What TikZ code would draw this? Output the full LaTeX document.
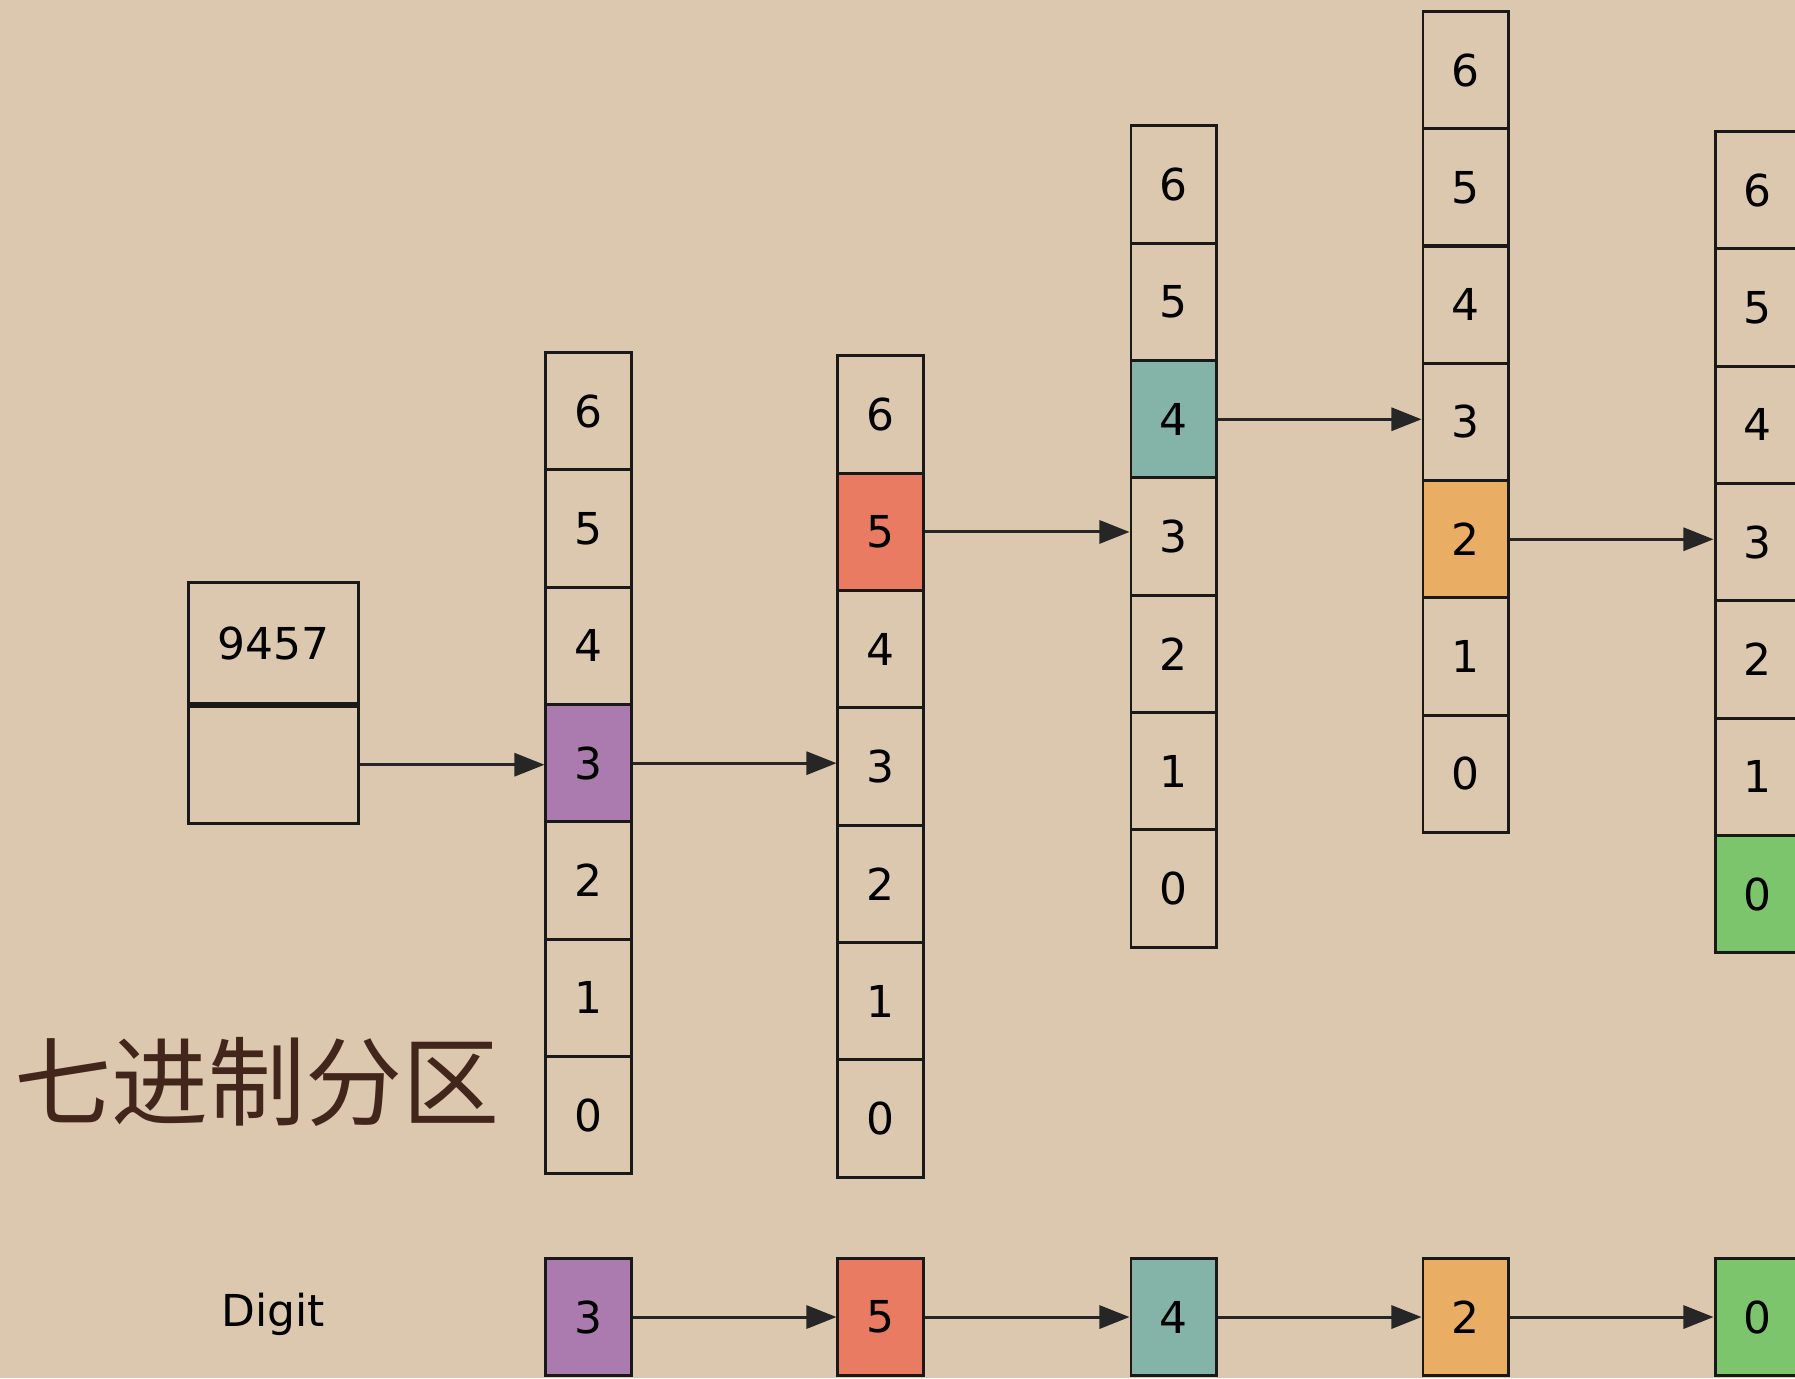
\documentclass[tikz,border=0pt]{standalone}
\usepackage{fontspec}
\setmainfont{DejaVu Sans}
\newfontfamily\cjk{Noto Sans CJK SC}
\usetikzlibrary{arrows.meta}

\definecolor{paper}{HTML}{DCC8AE}
\definecolor{ink}{HTML}{42261C}
\definecolor{dpurple}{HTML}{AB7AAE}
\definecolor{dred}{HTML}{E97B63}
\definecolor{dteal}{HTML}{84B4A8}
\definecolor{dorange}{HTML}{E9AD63}
\definecolor{dgreen}{HTML}{7CC56C}

\tikzset{
  cell/.style={draw=black!90, line width=0.85pt, minimum width=0.85cm,
    minimum height=1.173cm, inner sep=0pt, font=\fontsize{12.5}{14}\selectfont},
  link/.style={draw=black!85, line width=0.85pt, -{Triangle[length=0.3cm,width=0.23cm]}},
}

\begin{document}
\begin{tikzpicture}[x=0.01cm, y=-0.01cm]
    \useasboundingbox[fill=paper] (0, 0) rectangle (1795, 1378);
    % the number to split
    \node[cell, minimum width=1.69cm, minimum height=1.2cm] (numtop) at (273.5, 643) {9457};
    \node[cell, minimum width=1.69cm, anchor=north] (numbot) at (numtop.south) {};
    % one column per digit
    \foreach \k/\f in {6/none,5/none,4/none,3/dpurple,2/none,1/none,0/none}
      \node[cell, fill=\f] (a\k) at (588.5, {352.6+(6.5-\k)*117.3}) {\k};
    \foreach \k/\f in {6/none,5/dred,4/none,3/none,2/none,1/none,0/none}
      \node[cell, fill=\f] (b\k) at (880.5, {356+(6.5-\k)*117.3}) {\k};
    \foreach \k/\f in {6/none,5/none,4/dteal,3/none,2/none,1/none,0/none}
      \node[cell, fill=\f] (c\k) at (1173.5, {126+(6.5-\k)*117.3}) {\k};
    \foreach \k/\f in {6/none,5/none,4/none,3/none,2/dorange,1/none,0/none}
      \node[cell, fill=\f] (d\k) at (1465.5, {11.4+(6.5-\k)*117.3}) {\k};
    \foreach \k/\f in {6/none,5/none,4/none,3/none,2/none,1/none,0/dgreen}
      \node[cell, fill=\f] (e\k) at (1757.5, {131.6+(6.5-\k)*117.3}) {\k};
    \draw[link] (numbot.east) -- (numbot.east -| a3.west);
    \draw[link] (a3.east) -- (a3.east -| b3.west);
    \draw[link] (b5.east) -- (b5.east -| c3.west);
    \draw[link] (c4.east) -- (c4.east -| d3.west);
    \draw[link] (d2.east) -- (d2.east -| e3.west);
    % digit row
    \node[font=\fontsize{12.5}{14}\selectfont] (digit) at (273, 1314) {Digit};
    \node[cell, fill=dpurple] (da) at (588.5, 1317) {3};
    \node[cell, fill=dred] (db) at (880.5, 1317) {5};
    \node[cell, fill=dteal] (dc) at (1173.5, 1317) {4};
    \node[cell, fill=dorange] (dd) at (1465.5, 1317) {2};
    \node[cell, fill=dgreen] (de) at (1757.5, 1317) {0};
    \draw[link] (da) -- (db);
    \draw[link] (db) -- (dc);
    \draw[link] (dc) -- (dd);
    \draw[link] (dd) -- (de);
    % title
    \node[anchor=west, text=ink, inner sep=0pt] (title) at (14, 1082)
      {\cjk\fontsize{27.6}{30}\selectfont 七进制分区};
  \end{tikzpicture}
\end{document}
